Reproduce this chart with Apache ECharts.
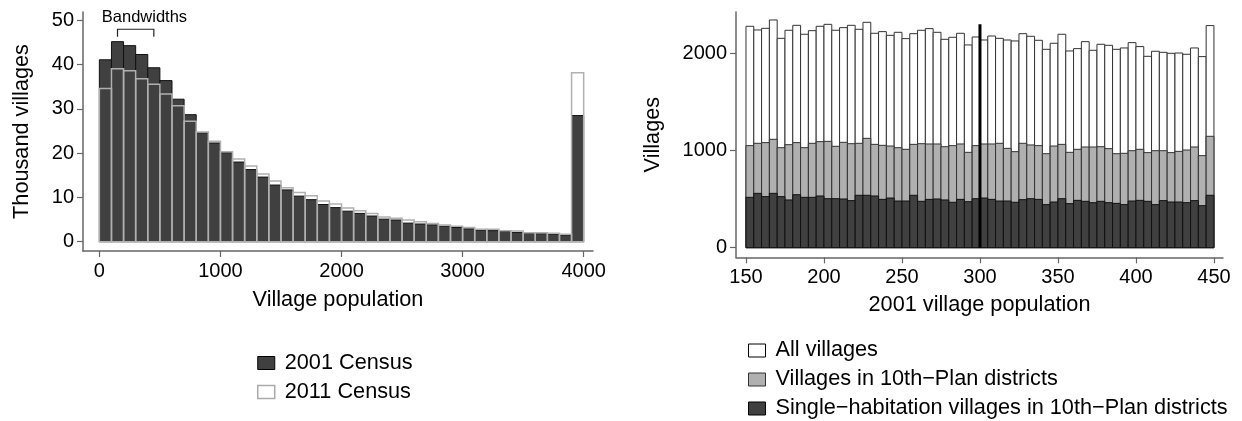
<!DOCTYPE html>
<html>
<head>
<meta charset="utf-8">
<script src="https://cdn.jsdelivr.net/npm/echarts@6/dist/echarts.min.js"></script>
<style>
html,body{margin:0;padding:0;background:#fff;}
#chart{width:1242px;height:421px;}
</style>
</head>
<body>
<div id="chart"></div>
<script>
// ---------- Left panel: village population histogram (thousand villages) ----------
const leftBinStarts = [0,100,200,300,400,500,600,700,800,900,
  1000,1100,1200,1300,1400,1500,1600,1700,1800,1900,
  2000,2100,2200,2300,2400,2500,2600,2700,2800,2900,
  3000,3100,3200,3300,3400,3500,3600,3700,3800,3900];
const leftBinWidth = 100;
const census2001 = [41.1,45.2,44.3,42.3,39.3,36.4,32.2,28.7,24.6,22.3,
  20.1,18.0,16.3,14.6,12.8,11.7,10.3,9.5,8.4,7.7,
  6.9,6.4,5.8,5.1,4.9,4.2,4.0,3.8,3.5,3.2,
  2.9,2.6,2.5,2.3,2.1,1.9,1.8,1.7,1.5,28.5];
const census2011 = [34.6,39.1,38.6,36.8,35.6,33.4,30.7,27.2,24.8,22.7,
  20.3,18.7,17.1,15.3,13.7,12.2,11.1,10.4,9.2,8.5,
  7.6,7.0,6.4,5.6,5.3,4.9,4.5,4.1,3.8,3.5,
  3.2,2.8,2.8,2.5,2.4,2.0,2.0,1.9,1.7,38.2];
const leftXTicks = [0,1000,2000,3000,4000];
const leftYTicks = [0,10,20,30,40,50];
const bandwidthRange = [150,450];

// ---------- Right panel: 2001 village population 150-450 ----------
const rightBinStarts = [150,155,160,165,170,175,180,185,190,195,
  200,205,210,215,220,225,230,235,240,245,
  250,255,260,265,270,275,280,285,290,295,
  300,305,310,315,320,325,330,335,340,345,
  350,355,360,365,370,375,380,385,390,395,
  400,405,410,415,420,425,430,435,440,445];
const rightBinWidth = 5;
const allVillages = [2278,2240,2257,2343,2154,2237,2288,2196,2233,2278,
  2298,2237,2264,2288,2247,2319,2206,2223,2185,2216,
  2151,2202,2237,2254,2216,2144,2165,2206,2086,2168,
  2137,2178,2154,2137,2127,2202,2175,2134,2041,2103,
  2196,2024,2048,2120,2031,2093,2082,2041,2055,2110,
  2069,1969,2021,2010,2000,2003,1990,2055,1966,2285];
const tenthPlanVillages = [1050,1074,1081,1115,1029,1060,1081,1029,1074,1091,
  1094,1043,1084,1070,1074,1125,1063,1053,1046,1029,
  1012,1063,1070,1067,1067,1039,1050,1067,981,1050,
  1067,1067,1074,1022,988,1074,1057,1050,967,1046,
  1063,981,1012,1036,1036,1039,1019,967,971,998,
  1012,978,998,998,978,991,1005,1036,947,1146];
const singleHabitation = [518,559,525,559,525,491,545,518,518,532,
  504,504,501,484,539,539,532,497,511,480,
  480,539,477,497,501,491,467,497,473,504,
  511,497,480,480,467,494,504,497,443,470,
  504,453,487,477,463,477,463,456,443,480,
  487,477,443,484,470,470,463,484,432,539];
const rightXTicks = [150,200,250,300,350,400,450];
const rightYTicks = [0,1000,2000];
const cutoffLine = [[300,0],[300,2300]];

const FONT = "'Liberation Sans', Arial, Helvetica, sans-serif";

function toBins(starts, width, vals) {
  return starts.map((s, i) => [s, s + width, vals[i]]);
}
function histSeries(name, gridIdx, data, fill, stroke, lw, z) {
  return {
    type: 'custom', name: name, xAxisIndex: gridIdx, yAxisIndex: gridIdx, z: z,
    encode: {x: [0, 1], y: 2},
    data: data,
    renderItem: function (params, api) {
      const p0 = api.coord([api.value(0), 0]);
      const p1 = api.coord([api.value(1), api.value(2)]);
      return {
        type: 'rect',
        shape: {x: p0[0], y: p1[1], width: p1[0] - p0[0], height: p0[1] - p1[1]},
        style: {fill: fill, stroke: stroke, lineWidth: lw}
      };
    }
  };
}

const axisLine = {show: true, onZero: false, lineStyle: {color: '#666', width: 1.5}};
const axisTick = (vals) => ({show: true, length: 6, lineStyle: {color: '#666', width: 1.2}, customValues: vals});
const axisLabel = (vals, margin) => ({color: '#000', fontSize: 20, fontFamily: FONT, margin: margin, customValues: vals,
  formatter: (v) => String(v)});
const nameStyle = {color: '#000', fontSize: 21.7, fontFamily: FONT};
const legendText = {color: '#000', fontSize: 21.7, fontFamily: FONT, padding: [0, 0, 0, 5]};

const chart = echarts.init(document.getElementById('chart'), null, {renderer: 'canvas'});
chart.setOption({
  animation: false,
  backgroundColor: '#fff',
  textStyle: {fontFamily: FONT},
  grid: [
    {left: 83, top: 12, width: 510, height: 239},
    {left: 736, top: 12, width: 487, height: 245.3}
  ],
  xAxis: [
    {type: 'value', gridIndex: 0, min: -135, max: 4077, splitLine: {show: false},
      axisLine: axisLine, axisTick: axisTick(leftXTicks), axisLabel: axisLabel(leftXTicks, 10),
      name: 'Village population', nameLocation: 'middle', nameGap: 38, nameTextStyle: nameStyle},
    {type: 'value', gridIndex: 1, min: 143.6, max: 455.8, splitLine: {show: false},
      axisLine: axisLine, axisTick: axisTick(rightXTicks), axisLabel: axisLabel(rightXTicks, 10),
      name: '2001 village population', nameLocation: 'middle', nameGap: 37, nameTextStyle: nameStyle}
  ],
  yAxis: [
    {type: 'value', gridIndex: 0, min: -2.1, max: 51.9, splitLine: {show: false},
      axisLine: axisLine, axisTick: axisTick(leftYTicks), axisLabel: axisLabel(leftYTicks, 9),
      name: 'Thousand villages', nameLocation: 'middle', nameGap: 50, nameRotate: 90, nameTextStyle: nameStyle},
    {type: 'value', gridIndex: 1, min: -99, max: 2425, splitLine: {show: false},
      axisLine: axisLine, axisTick: axisTick(rightYTicks), axisLabel: axisLabel(rightYTicks, 9),
      name: 'Villages', nameLocation: 'middle', nameGap: 72, nameRotate: 90, nameTextStyle: nameStyle}
  ],
  legend: [
    {orient: 'vertical', left: 257, top: 352, height: 70, padding: 0, itemWidth: 17, itemHeight: 13, itemGap: 7,
      textStyle: legendText,
      data: [
        {name: '2001 Census', icon: 'rect', itemStyle: {color: '#404040', borderColor: '#000', borderWidth: 1}},
        {name: '2011 Census', icon: 'rect', itemStyle: {color: '#fff', borderColor: '#aaa', borderWidth: 1.5}}
      ]},
    {orient: 'vertical', left: 748, top: 339.5, height: 90, width: 494, padding: 0, itemWidth: 17, itemHeight: 13, itemGap: 7,
      textStyle: legendText,
      data: [
        {name: 'All villages', icon: 'rect', itemStyle: {color: '#fff', borderColor: '#000', borderWidth: 1}},
        {name: 'Villages in 10th\u2212Plan districts', icon: 'rect', itemStyle: {color: '#b0b0b0', borderColor: '#333', borderWidth: 1}},
        {name: 'Single\u2212habitation villages in 10th\u2212Plan districts', icon: 'rect', itemStyle: {color: '#404040', borderColor: '#000', borderWidth: 1}}
      ]}
  ],
  series: [
    histSeries('2001 Census', 0, toBins(leftBinStarts, leftBinWidth, census2001), '#404040', '#111', 1, 2),
    histSeries('2011 Census', 0, toBins(leftBinStarts, leftBinWidth, census2011), 'rgba(0,0,0,0)', '#b0b0b0', 1.5, 3),
    {
      type: 'custom', name: 'bandwidths', xAxisIndex: 0, yAxisIndex: 0, z: 5,
      data: [[bandwidthRange[0], bandwidthRange[1]]],
      renderItem: function (params, api) {
        const a = api.value(0), b = api.value(1);
        const p1 = api.coord([a, 46.3]), p2 = api.coord([a, 48]);
        const p3 = api.coord([b, 48]), p4 = api.coord([b, 46.3]);
        const t = api.coord([20, 50.7]);
        return {type: 'group', children: [
          {type: 'polyline', shape: {points: [p1, p2, p3, p4]}, style: {stroke: '#222', lineWidth: 1.2, fill: null}},
          {type: 'text', x: t[0], y: t[1], style: {text: 'Bandwidths', fill: '#000', fontSize: 16.5, fontFamily: FONT, align: 'left', verticalAlign: 'middle'}}
        ]};
      }
    },
    histSeries('All villages', 1, toBins(rightBinStarts, rightBinWidth, allVillages), '#fff', '#333', 1, 2),
    histSeries('Villages in 10th\u2212Plan districts', 1, toBins(rightBinStarts, rightBinWidth, tenthPlanVillages), '#b0b0b0', '#333', 1, 3),
    histSeries('Single\u2212habitation villages in 10th\u2212Plan districts', 1, toBins(rightBinStarts, rightBinWidth, singleHabitation), '#404040', '#111', 1, 4),
    {type: 'line', name: 'cutoff', xAxisIndex: 1, yAxisIndex: 1, z: 6, data: cutoffLine,
      symbol: 'none', lineStyle: {color: '#000', width: 3}, silent: true}
  ]
});
</script>
</body>
</html>
